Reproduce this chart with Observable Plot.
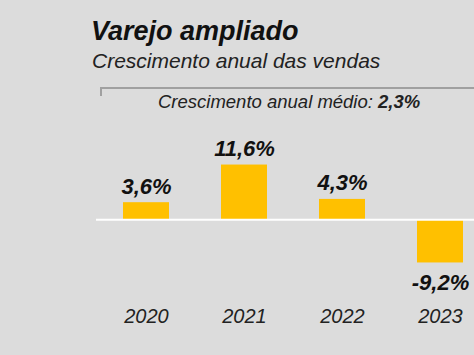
<!DOCTYPE html>
<html><head><meta charset="utf-8">
<script src="https://cdn.jsdelivr.net/npm/d3@7"></script>
<script src="https://cdn.jsdelivr.net/npm/@observablehq/plot@0.6"></script>
<style>
html,body{margin:0;padding:0;background:#dcdcdc;}
#wrap{position:relative;width:474px;height:355px;overflow:hidden;font-family:"Liberation Sans",Arial,sans-serif;background:#dcdcdc;}
.t{position:absolute;white-space:nowrap;font-style:italic;line-height:1;}
#title{left:91px;top:18px;font-size:27px;font-weight:bold;color:#111;}
#sub{left:92px;top:50px;font-size:21px;color:#222;}
#avg{left:158px;top:93px;font-size:18.5px;color:#222;}
#brk{position:absolute;left:100px;top:87px;width:380px;height:7px;border-top:2px solid #a0a0a0;border-left:2px solid #a0a0a0;}
#plot{position:absolute;left:0;top:0;}
</style></head>
<body><div id="wrap">
<div class="t" id="title">Varejo ampliado</div>
<div class="t" id="sub">Crescimento anual das vendas</div>
<div id="brk"></div>
<div class="t" id="avg">Crescimento anual médio: <b>2,3%</b></div>
<div id="plot"></div>
</div>
<script>
const years = ["2020","2021","2022","2023"];
const growth = [3.6, 11.6, 4.3, -9.2];
const data = years.map((y,i)=>({year:y, value:growth[i]}));
const fmt = v => v.toFixed(1).replace(".", ",") + "%";
const chart = Plot.plot({
  width: 474, height: 355,
  marginLeft: 122, marginRight: 10, marginTop: 125, marginBottom: 45,
  style: {background: "transparent", fontFamily: '"Liberation Sans", Arial, sans-serif', overflow: "visible"},
  x: {domain: years, paddingInner: 0.534, paddingOuter: 0, label: null},
  y: {domain: [-19.3, 20], axis: null},
  marks: [
    Plot.barY(data, {x: "year", y: "value", fill: "#FFC000"}),
    Plot.ruleY([0], {stroke: "#ffffff", strokeWidth: 2, insetLeft: -26, insetRight: -10}),
    Plot.text(data.filter(d=>d.value>=0), {x:"year", y:"value", text: d=>fmt(d.value), dy:-9, lineAnchor:"bottom", fontSize:22, fontWeight:"bold", fontStyle:"italic", fill:"#111"}),
    Plot.text(data.filter(d=>d.value<0), {x:"year", y:"value", text: d=>fmt(d.value), dy:11, lineAnchor:"top", fontSize:22, fontWeight:"bold", fontStyle:"italic", fill:"#111"}),
    Plot.axisX({tickSize:0, tickPadding:0, dy:-2, fontSize:20, fontStyle:"italic", fill:"#222", label:null})
  ]
});
document.getElementById("plot").appendChild(chart);
</script>
</body></html>
